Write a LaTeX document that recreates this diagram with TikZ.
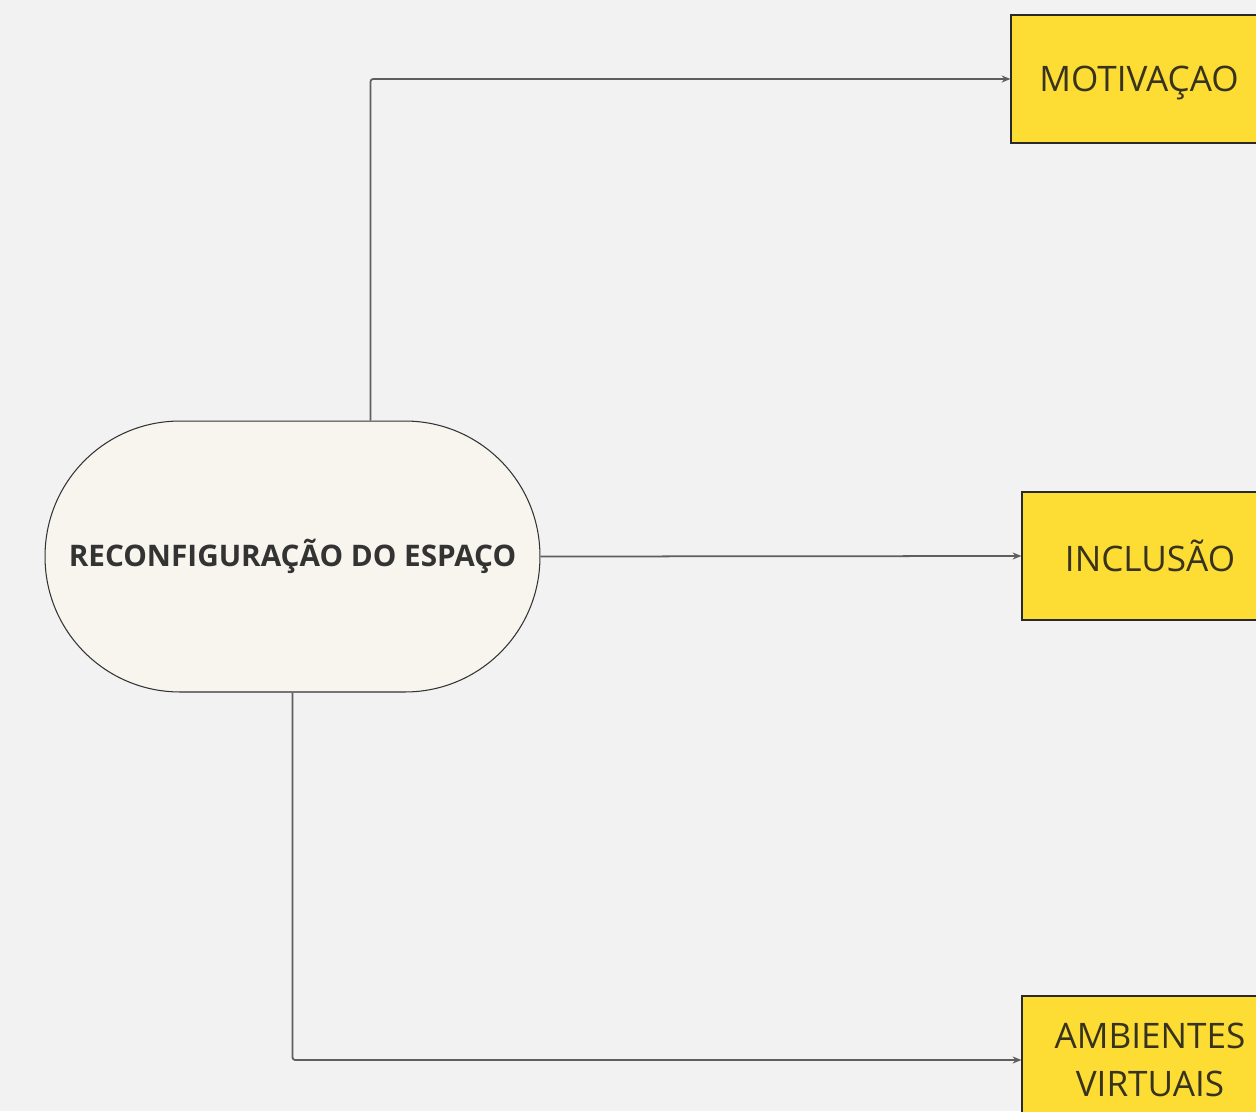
\documentclass[tikz,border=0pt]{standalone}
\usepackage{fontspec}
\setmainfont{Open Sans}
\usepackage{tikz}
\usetikzlibrary{arrows.meta}

\definecolor{bgcol}{HTML}{F2F2F2}
\definecolor{capsulecol}{HTML}{F8F5EF}
\definecolor{yellowcol}{HTML}{FDDC33}
\definecolor{linkcol}{HTML}{5E5E5E}
\definecolor{textcol}{HTML}{333333}

\begin{document}
\begin{tikzpicture}[x=0.02cm, y=-0.02cm,
        capsule/.style={draw=textcol, line width=0.6pt, fill=capsulecol, rounded corners=2.7cm,
            minimum width=9.9cm, minimum height=5.42cm, text=textcol,
            font=\fontsize{16.9}{20}\selectfont\bfseries},
        topic/.style={draw=textcol!80!black, line width=0.7pt, fill=yellowcol, minimum width=5.12cm,
            minimum height=2.56cm, align=center, text=textcol!80!yellowcol!60!black,
            font=\fontsize{20}{27.3}\selectfont},
        link/.style={draw=linkcol, line width=1pt, rounded corners=1.5pt,
            -{Stealth[length=5pt, width=4pt]}}]
        \fill[bgcol] (0,0) rectangle (1256,1111);
        \clip (0,0) rectangle (1256,1111);

        \node[capsule] (espaco) at (292.5, 556.5) {RECONFIGURAÇÃO DO ESPAÇO};
        \node[topic, text depth=0pt] (motivacao) at (1139, 79) {MOTIVAÇAO};
        \node[topic] (inclusao) at (1150, 556) {INCLUSÃO};
        \node[topic] (ambientes) at (1150, 1060) {AMBIENTES\\VIRTUAIS};

        \draw[link] ([xshift=1.56cm]espaco.north) |- (motivacao.west);
        \draw[link] (espaco.east) -- (inclusao.west);
        \draw[link] (espaco.south) |- (ambientes.west);
    \end{tikzpicture}
\end{document}
